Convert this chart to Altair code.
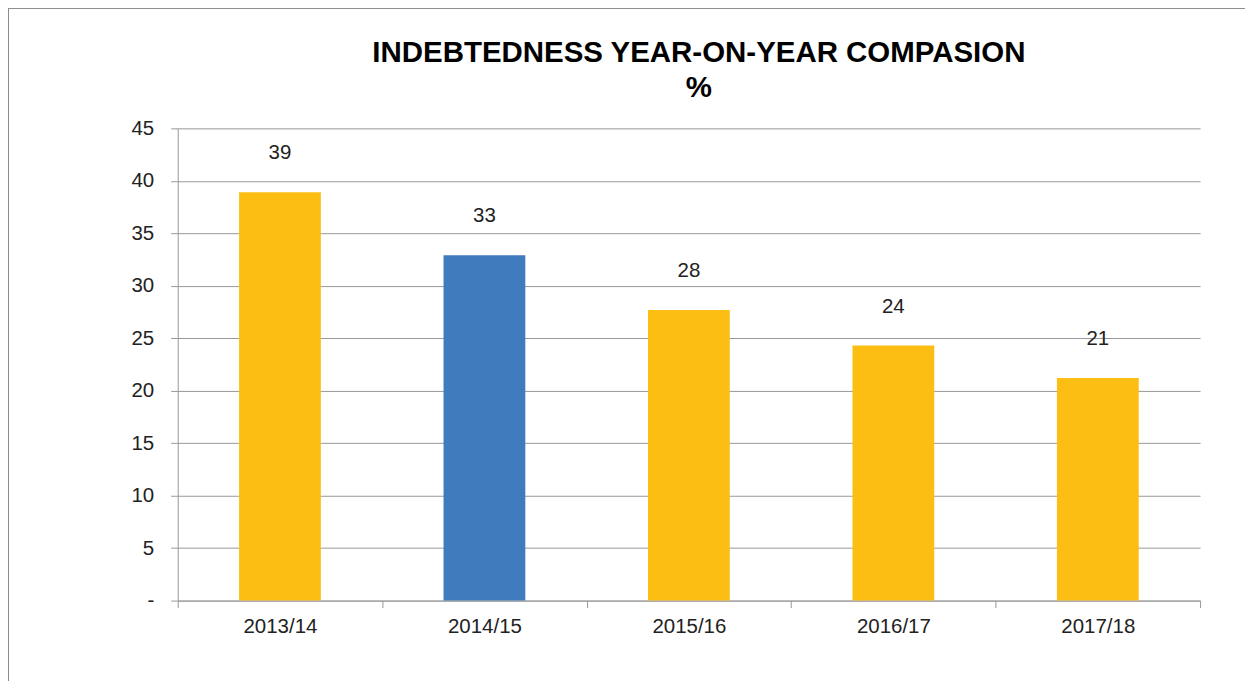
import altair as alt
import pandas as pd

years = ["2013/14", "2014/15", "2015/16", "2016/17", "2017/18"]
values = [38.9, 32.9, 27.7, 24.3, 21.2]
colors = ["#FDBE14", "#3F7BBD", "#FDBE14", "#FDBE14", "#FDBE14"]
y_ticks = [0, 5, 10, 15, 20, 25, 30, 35, 40, 45]
title_lines = ["INDEBTEDNESS YEAR-ON-YEAR COMPASION", "%"]

df = pd.DataFrame({"year": years, "value": values, "color": colors})
tdf = pd.DataFrame({"t": title_lines, "row": [0, 1]})

W, H = 1024, 473
PL, PT, PR, PB = 170, 120, 45, 80
FS = 20.5

x_enc = alt.X("year:N", sort=years,
              scale=alt.Scale(paddingInner=0, paddingOuter=0),
              axis=alt.Axis(title=None, labelAngle=0, bandPosition=0, tickBand="extent",
                            domainColor="#999999", tickColor="#999999", tickSize=7,
                            labelFontSize=FS, labelColor="#222222", labelPadding=9,
                            labelFont="Liberation Sans", grid=False))
y_enc = alt.Y("value:Q", scale=alt.Scale(domain=[0, 45], nice=False),
              axis=alt.Axis(title=None, values=y_ticks,
                            labelExpr="datum.value == 0 ? '-' : datum.label",
                            domainColor="#999999", tickColor="#999999", tickSize=7,
                            gridColor="#999999", gridWidth=1,
                            labelFontSize=FS, labelColor="#222222", labelPadding=17,
                            labelFont="Liberation Sans"))

bars = alt.Chart(df).mark_bar(width=alt.RelativeBandSize(0.4)).encode(
    x=x_enc, y=y_enc, color=alt.Color("color:N", scale=None)
)
labels = alt.Chart(df).mark_text(dy=-39, fontSize=FS, font="Liberation Sans", color="#222222").encode(
    x=alt.X("year:N", sort=years), y="value:Q", text=alt.Text("value:Q", format=".0f")
)
frame = alt.Chart(df).mark_rect(fill=None, stroke="#8c8c8c", strokeWidth=2).encode(
    x=alt.value(-170), x2=alt.value(W + 200), y=alt.value(-121), y2=alt.value(H + 200)
)
title1 = alt.Chart(tdf).transform_filter("datum.row == 0").mark_text(
    font="Liberation Sans", fontSize=29.5, fontWeight="bold", color="#000000", baseline="middle"
).encode(x=alt.value(W / 2 + 10), y=alt.value(-75), text="t:N")
title2 = alt.Chart(tdf).transform_filter("datum.row == 1").mark_text(
    font="Liberation Sans", fontSize=29.5, fontWeight="bold", color="#000000", baseline="middle"
).encode(x=alt.value(W / 2 + 10), y=alt.value(-40), text="t:N")

chart = alt.layer(frame, bars, labels, title1, title2).properties(
    width=W, height=H,
    padding={"left": PL, "top": PT, "right": PR, "bottom": PB},
    autosize=alt.AutoSizeParams(type="none"),
).configure_view(stroke=None)

chart.save("out.html", embed_options={"renderer": "svg", "actions": False})
